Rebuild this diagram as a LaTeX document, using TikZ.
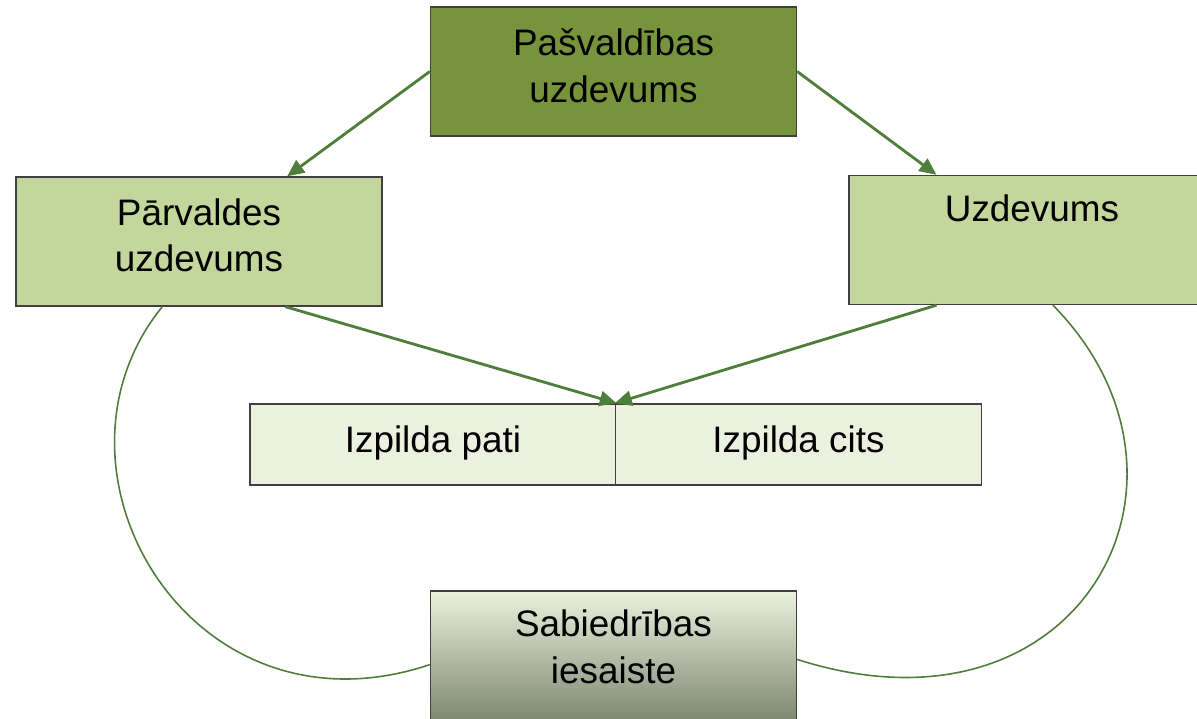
\documentclass[tikz,border=0pt]{standalone}
\usepackage{fontspec}
\setmainfont{Liberation Sans}
\usetikzlibrary{arrows.meta,calc}
\definecolor{taskdark}{HTML}{77933C}
\definecolor{tasklight}{HTML}{C3D69B}
\definecolor{execpale}{HTML}{EBF1DE}
\definecolor{socdark}{HTML}{7F8872}
\definecolor{linkgreen}{HTML}{4F7D3A}
\tikzset{
	box/.style={draw=black!75, line width=0.8pt, minimum width=7.32cm, minimum height=2.58cm,
		align=center, inner sep=0pt, font=\fontsize{21}{26.5}\selectfont, text depth=7pt},
	flat/.style={minimum height=1.62cm, text depth=6.4pt},
	flow/.style={draw=linkgreen, line width=1.6pt, -{Triangle[length=0.34cm,width=0.3cm]}},
	tie/.style={draw=linkgreen, line width=0.9pt},
}
\begin{document}
\begin{tikzpicture}[x=0.02cm, y=-0.02cm]
\clip (0, 0) rectangle (1197, 719);

\node [box, fill=taskdark]  (pasv)  at (613.5, 71.5) {Pašvaldības\\uzdevums};
\node [box, fill=tasklight] (parv)  at (199, 241.5)  {Pārvaldes\\uzdevums};
\node [box, fill=tasklight, text depth=10pt] (uzd) at (1032, 240) {Uzdevums\\ \strut};
\node [box, flat, fill=execpale] (pati) at (433, 444.5)   {Izpilda pati};
\node [box, flat, fill=execpale] (cits) at (798.5, 444.5) {Izpilda cits};
\node [box, top color=execpale, bottom color=socdark, text depth=10pt] (sab) at (613.5, 655.5) {Sabiedrības\\iesaiste};

\draw [flow] (pasv.west) -- ($(parv.north west)!0.74!(parv.north east)$);
\draw [flow] (pasv.east) -- ($(uzd.north west)!0.24!(uzd.north east)$);
\draw [flow] ($(parv.south west)!0.735!(parv.south east)$) -- (pati.north east);
\draw [flow] ($(uzd.south west)!0.24!(uzd.south east)$) -- (cits.north west);

\draw [tie] ($(parv.south west)!0.4!(parv.south east)$)
	.. controls (30, 470) and (190, 745) .. ($(sab.north west)!0.57!(sab.south west)$);
\draw [tie] ($(uzd.south west)!0.557!(uzd.south east)$)
	.. controls (1225, 480) and (1080, 750) .. ($(sab.north east)!0.53!(sab.south east)$);
\end{tikzpicture}
\end{document}
